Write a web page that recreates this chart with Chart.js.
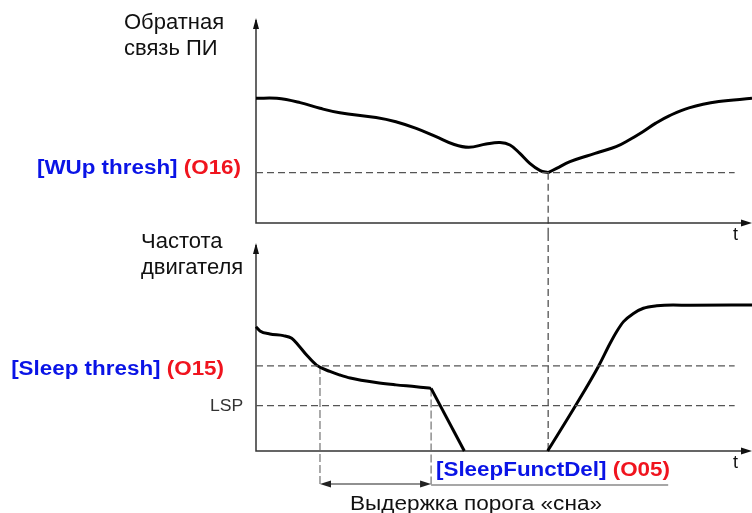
<!DOCTYPE html>
<html>
<head>
<meta charset="utf-8">
<script src="https://cdn.jsdelivr.net/npm/chart.js@4"></script>
<style>
  html, body { margin: 0; padding: 0; background: #fff; }
  #wrap { position: relative; width: 752px; height: 513px; }
  #wrap canvas { position: absolute; left: 0; }
  #top { top: 0; }
  #bottom { top: 234px; }
</style>
</head>
<body>
<div id="wrap">
  <canvas id="top" width="752" height="245"></canvas>
  <canvas id="bottom" width="752" height="279"></canvas>
</div>
<script>
(function () {
  'use strict';

  // PI feedback (top), split at the wake-up point
  const feedbackT1 = [0, 4.2, 8.9, 12.9, 16.9, 24.2, 28.2, 32.3, 36.3, 39.7, 42.9, 46.4, 49.2, 51.2, 53.2, 55.2, 57.3, 58.9];
  const feedbackV1 = [61.4, 61.4, 59.3, 56.5, 54.3, 52.0, 49.9, 46.6, 42.5, 38.9, 37.3, 38.9, 39.6, 38.4, 34.3, 29.4, 25.8, 24.8];
  const feedbackT2 = [58.9, 60.6, 63.3, 66.7, 69.4, 72.6, 75.2, 78.0, 80.6, 83.3, 87.3, 93.3, 100];
  const feedbackV2 = [24.8, 26.9, 30.2, 33.0, 35.1, 37.6, 40.9, 45.0, 49.2, 52.8, 56.7, 59.8, 61.4];

  // motor frequency (bottom)
  const freqT1 = [0, 0.8, 2.8, 5.5, 7.2, 8.5, 10.2, 12.2, 14.9, 16.9, 19.0, 24.2, 28.2, 32.3, 35.3];
  const freqV1 = [60.3, 58.3, 56.8, 56.0, 54.7, 51.5, 46.6, 41.7, 38.6, 36.9, 35.4, 33.2, 32.1, 31.2, 30.4];
  const freqT2 = [35.3, 42.0];
  const freqV2 = [30.4, 0];
  const freqT3 = [58.8, 64.5, 69.0, 71.4, 72.7, 74.1, 76.1, 78.1, 80.8, 84.1, 87.5, 100];
  const freqV3 = [0, 22.3, 40.9, 52.3, 57.9, 62.8, 66.8, 69.3, 70.5, 70.9, 70.7, 70.9];

  const wakeThresh = 24.8;
  const sleepThresh = 41.3;
  const lspLevel = 22;
  const dashEndT = 96.5;
  const wakeT = 58.9;
  const sleepStartT = 12.9;
  const sleepEndT = 35.3;
  const delayLineEndT = 83.1;

  const FONT = '"Liberation Sans", Arial, sans-serif';
  const BLUE = '#0a14e6';
  const RED = '#f0141e';
  const SPLIT_Y = 234; // where the bottom canvas starts on the page

  function pts(ts, vs) {
    return ts.map(function (t, i) { return { x: t, y: vs[i] }; });
  }

  function curve(ts, vs, mode) {
    return {
      data: pts(ts, vs),
      borderColor: '#000',
      borderWidth: 3,
      pointRadius: 0,
      tension: mode === 'straight' ? 0 : 0.4,
      cubicInterpolationMode: mode === 'monotone' ? 'monotone' : 'default',
      clip: false
    };
  }

  function level(v) {
    return {
      data: pts([0, dashEndT], [v, v]),
      borderColor: '#555',
      borderWidth: 1.2,
      borderDash: [7, 4],
      pointRadius: 0,
      tension: 0
    };
  }

  function arrowUp(ctx, x, y) {
    ctx.beginPath();
    ctx.moveTo(x, y);
    ctx.lineTo(x - 3, y + 11);
    ctx.lineTo(x + 3, y + 11);
    ctx.closePath();
    ctx.fill();
  }

  function arrowRight(ctx, x, y, len, half) {
    ctx.beginPath();
    ctx.moveTo(x, y);
    ctx.lineTo(x - len, y - half);
    ctx.lineTo(x - len, y + half);
    ctx.closePath();
    ctx.fill();
  }

  function arrowLeft(ctx, x, y, len, half) {
    ctx.beginPath();
    ctx.moveTo(x, y);
    ctx.lineTo(x + len, y - half);
    ctx.lineTo(x + len, y + half);
    ctx.closePath();
    ctx.fill();
  }

  function axes(ctx, area) {
    ctx.save();
    ctx.strokeStyle = '#333';
    ctx.fillStyle = '#111';
    ctx.lineWidth = 1.5;
    ctx.beginPath();
    ctx.moveTo(area.left, area.top);
    ctx.lineTo(area.left, area.bottom);
    ctx.lineTo(area.right - 4, area.bottom);
    ctx.stroke();
    arrowUp(ctx, area.left, area.top - 2);
    arrowRight(ctx, area.right, area.bottom, 11, 3.5);
    ctx.restore();
  }

  function vdash(ctx, x, y1, y2, color, dash) {
    ctx.save();
    ctx.strokeStyle = color;
    ctx.lineWidth = 1.1;
    ctx.setLineDash(dash);
    ctx.beginPath();
    ctx.moveTo(x, y1);
    ctx.lineTo(x, y2);
    ctx.stroke();
    ctx.restore();
  }

  // text drawn slightly widened, like the source drawing
  function wideText(ctx, s, x, y, font, color, sx) {
    ctx.save();
    ctx.font = font;
    ctx.textBaseline = 'alphabetic';
    ctx.textAlign = 'left';
    ctx.fillStyle = color;
    ctx.translate(x, y);
    ctx.scale(sx, 1);
    ctx.fillText(s, 0, 0);
    ctx.restore();
  }

  function twoTone(ctx, a, b, x, y, alignRight) {
    const sx = 1.12;
    const font = 'bold 20px ' + FONT;
    ctx.save();
    ctx.font = font;
    const wa = ctx.measureText(a).width * sx;
    const wb = ctx.measureText(b).width * sx;
    ctx.restore();
    const x0 = alignRight ? x - wa - wb : x;
    wideText(ctx, a, x0, y, font, BLUE, sx);
    wideText(ctx, b, x0 + wa, y, font, RED, sx);
  }

  function text(ctx, s, x, y, size, align, color) {
    ctx.save();
    ctx.font = size + 'px ' + FONT;
    ctx.textBaseline = 'alphabetic';
    ctx.textAlign = align || 'left';
    ctx.fillStyle = color || '#111';
    ctx.fillText(s, x, y);
    ctx.restore();
  }

  const topDecor = {
    id: 'topDecor',
    beforeDatasetsDraw: function (chart) {
      const ctx = chart.ctx, a = chart.chartArea;
      const xs = chart.scales.x, ys = chart.scales.y;
      axes(ctx, a);
      vdash(ctx, xs.getPixelForValue(wakeT), ys.getPixelForValue(wakeThresh), SPLIT_Y, '#333', [7, 4]);
    },
    afterDraw: function (chart) {
      const ctx = chart.ctx;
      text(ctx, 'Обратная', 124, 29, 22);
      text(ctx, 'связь ПИ', 124, 55, 22);
      twoTone(ctx, '[WUp thresh] ', '(O16)', 241, 174, true);
      text(ctx, 't', 733, 240, 18);
    }
  };

  const bottomDecor = {
    id: 'bottomDecor',
    beforeDatasetsDraw: function (chart) {
      const ctx = chart.ctx, a = chart.chartArea;
      const xs = chart.scales.x, ys = chart.scales.y;
      axes(ctx, a);
      vdash(ctx, xs.getPixelForValue(wakeT), 0, a.bottom, '#333', [7, 4]);
      const x1 = xs.getPixelForValue(sleepStartT);
      const x2 = xs.getPixelForValue(sleepEndT);
      const yArrow = a.bottom + 33;
      vdash(ctx, x1, ys.getPixelForValue(sleepThresh), yArrow + 3, '#666', [8, 3]);
      vdash(ctx, x2, ys.getPixelForValue(freqV1[freqV1.length - 1]), yArrow + 3, '#666', [8, 3]);

      ctx.save();
      ctx.strokeStyle = '#222';
      ctx.fillStyle = '#222';
      ctx.lineWidth = 1.2;
      ctx.beginPath();
      ctx.moveTo(x1 + 4, yArrow);
      ctx.lineTo(x2 - 4, yArrow);
      ctx.stroke();
      arrowLeft(ctx, x1, yArrow, 11, 3.5);
      arrowRight(ctx, x2, yArrow, 11, 3.5);
      ctx.strokeStyle = '#8a8a8a';
      ctx.lineWidth = 1.6;
      ctx.beginPath();
      ctx.moveTo(x2, yArrow + 1);
      ctx.lineTo(xs.getPixelForValue(delayLineEndT), yArrow + 1);
      ctx.stroke();
      ctx.restore();
    },
    afterDraw: function (chart) {
      const ctx = chart.ctx;
      text(ctx, 'Частота', 141, 14, 22);
      text(ctx, 'двигателя', 141, 40, 22);
      twoTone(ctx, '[Sleep thresh] ', '(O15)', 224, 141, true);
      wideText(ctx, 'LSP', 210, 177, '16px ' + FONT, '#333', 1.1);
      text(ctx, 't', 733, 234, 18);
      twoTone(ctx, '[SleepFunctDel] ', '(O05)', 436, 242, false);
      wideText(ctx, 'Выдержка порога «сна»', 350, 276, '20px ' + FONT, '#111', 1.13);
    }
  };

  function opts(pad) {
    return {
      responsive: false,
      animation: false,
      devicePixelRatio: 1,
      layout: { padding: pad },
      scales: {
        x: { type: 'linear', min: 0, max: 100, display: false },
        y: { type: 'linear', min: 0, max: 100, display: false }
      },
      plugins: { legend: { display: false }, tooltip: { enabled: false } },
      events: []
    };
  }

  new Chart(document.getElementById('top'), {
    type: 'line',
    data: {
      datasets: [
        level(wakeThresh),
        curve(feedbackT1, feedbackV1, 'smooth'),
        curve(feedbackT2, feedbackV2, 'smooth')
      ]
    },
    options: opts({ left: 256, right: 0, top: 20, bottom: 22 }),
    plugins: [topDecor]
  });

  new Chart(document.getElementById('bottom'), {
    type: 'line',
    data: {
      datasets: [
        level(sleepThresh),
        level(lspLevel),
        curve(freqT1, freqV1, 'monotone'),
        curve(freqT2, freqV2, 'straight'),
        curve(freqT3, freqV3, 'monotone')
      ]
    },
    options: opts({ left: 256, right: 0, top: 11, bottom: 62 }),
    plugins: [bottomDecor]
  });
})();
</script>
</body>
</html>
